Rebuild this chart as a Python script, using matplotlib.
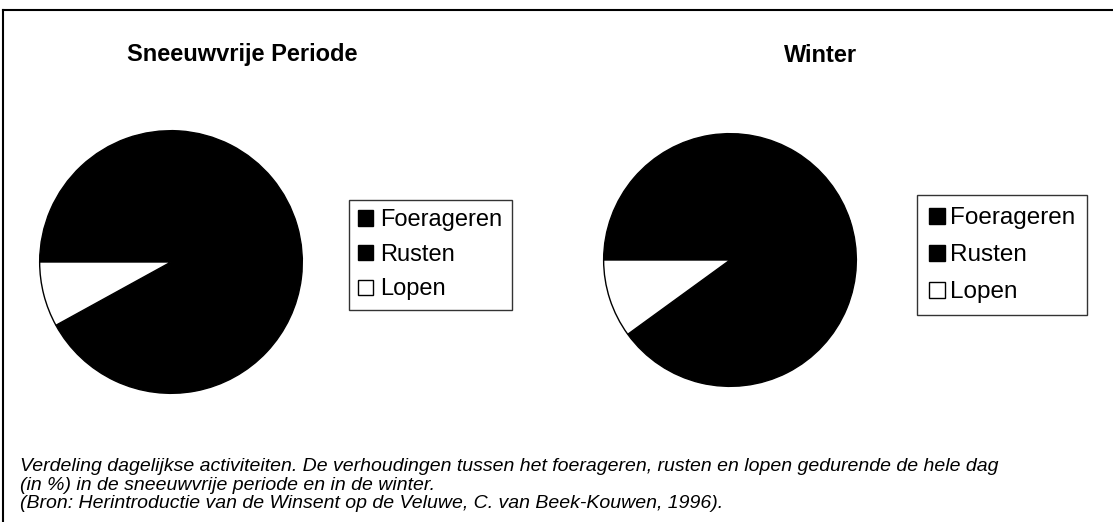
import matplotlib.pyplot as plt
from matplotlib.lines import Line2D
from matplotlib.patches import Patch

plt.rcParams['font.family'] = ['Liberation Sans', 'DejaVu Sans']

labels = ["Foerageren", "Rusten", "Lopen"]
colors = ["black", "black", "white"]
titles = ["Sneeuwvrije Periode", "Winter"]
# percentages per period (Foerageren / Rusten are both black in the source)
sneeuwvrij = [52, 40, 8]
winter = [45, 45, 10]
caption_lines = [
    "Verdeling dagelijkse activiteiten. De verhoudingen tussen het foerageren, "
    "rusten en lopen gedurende de hele dag",
    "(in %) in de sneeuwvrije periode en in de winter.",
    "(Bron: Herintroductie van de Winsent op de Veluwe, C. van Beek-Kouwen, 1996).",
]

W, H = 1113, 522
fig = plt.figure(figsize=(W / 100, H / 100), dpi=100)
fig.patch.set_facecolor('white')

def px_axes(cx, cy, r):
    return fig.add_axes([(cx - r) / W, (H - cy - r) / H, 2 * r / W, 2 * r / H])

pies = [(sneeuwvrij, (171, 262, 132)), (winter, (730, 260, 127))]
for vals, (cx, cy, r) in pies:
    ax = px_axes(cx, cy, r)
    ax.pie(vals, colors=colors, startangle=180, counterclock=False,
           wedgeprops=dict(edgecolor='black', linewidth=1))
    ax.set_xlim(-1.005, 1.005)
    ax.set_ylim(-1.005, 1.005)
    ax.set_aspect('equal')

# titles
fig.text(242 / W, 1 - 55 / H, titles[0], ha='center', va='center',
         fontsize=17, fontweight='bold')
fig.text(821 / W, 1 - 55 / H, titles[1], ha='center', va='center',
         fontsize=17, fontweight='bold')

# legends
handles = [Patch(facecolor=c, edgecolor='black', linewidth=1) for c in colors]
legend_opts = [
    dict(pos=(349, 200), fs=17, hlen=0.62, pad=0.4, tpad=0.3, lsp=0.53),
    dict(pos=(917, 195), fs=17.5, hlen=0.65, pad=0.5, tpad=0.2, lsp=0.62),
]
for o in legend_opts:
    x0, y0 = o['pos']
    leg = fig.legend(handles, labels, loc='upper left',
                     bbox_to_anchor=(x0 / W, 1 - y0 / H),
                     fontsize=o['fs'], frameon=True, fancybox=False,
                     handlelength=o['hlen'], handleheight=o['hlen'],
                     handletextpad=o['tpad'], labelspacing=o['lsp'],
                     borderpad=o['pad'], borderaxespad=0)
    leg.get_frame().set_edgecolor('black')
    leg.get_frame().set_linewidth(1)

# caption
for i, line in enumerate(caption_lines):
    fig.text(20 / W, 1 - (471 + 18.5 * i) / H, line, ha='left', va='baseline',
             fontsize=14, fontstyle='italic')

# outer frame (top and left edges visible)
fig.add_artist(Line2D([3 / W, 1], [1 - 10 / H, 1 - 10 / H], color='black', lw=1.5))
fig.add_artist(Line2D([3 / W, 3 / W], [0, 1 - 10 / H], color='black', lw=1.5))

fig.savefig('out.png', dpi=100)
